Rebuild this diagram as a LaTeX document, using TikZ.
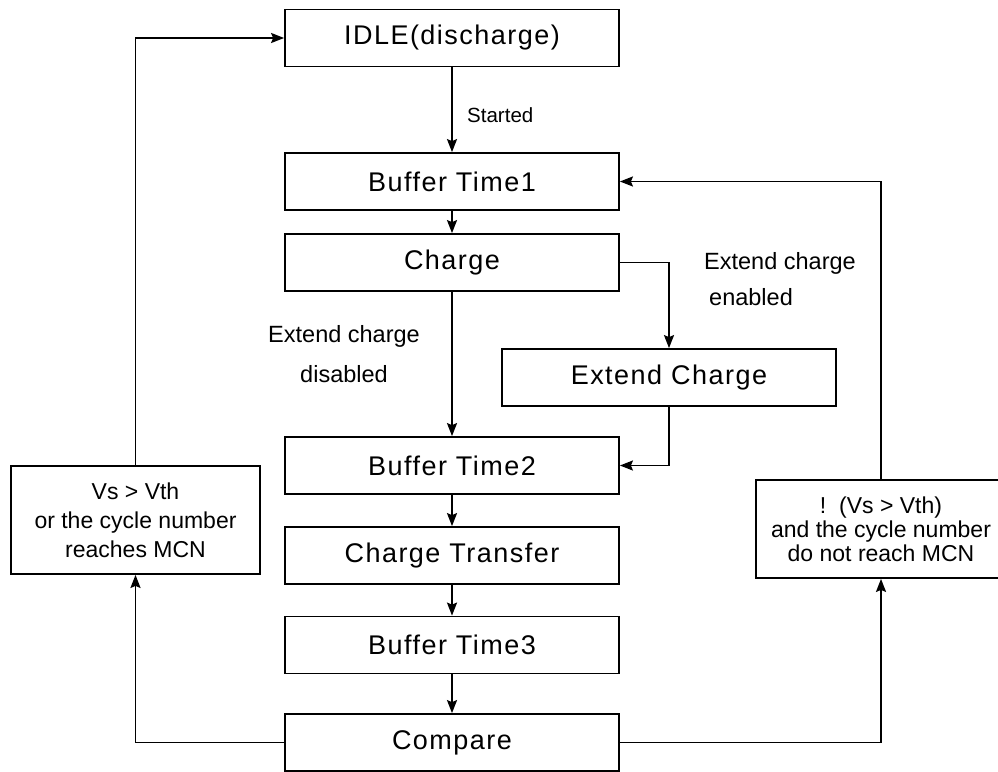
\documentclass[tikz,border=0pt]{standalone}
\usepackage{fontspec}
\setmainfont{Liberation Sans}
\newfontfamily\boxfont[LetterSpace=5.5]{Liberation Sans}
\usetikzlibrary{arrows.meta}
\begin{document}
\begin{tikzpicture}[x=1pt,y=-1pt,
  box/.style={draw,line width=1.8pt,minimum width=334pt,minimum height=57pt,inner sep=0pt,font=\boxfont\fontsize{27}{30}\selectfont},
  sidebox/.style={draw,line width=1.8pt,inner sep=0pt,align=center,font=\fontsize{23}{29}\selectfont},
  lbl/.style={inner sep=0pt,font=\fontsize{23.5}{28}\selectfont},
  arr/.style={line width=1.8pt,-{Stealth[length=13pt,width=10pt,inset=2pt]}},
  ln/.style={line width=1.8pt}]
\useasboundingbox (0,0) rectangle (998,771);
\node[box] (idle) at (452,38) {IDLE(discharge)};
\node[box] (bt1) at (452,181.5) {Buffer Time1};
\node[box] (charge) at (452,262.5) {Charge};
\node[box] (ext) at (669,377.5) {Extend Charge};
\node[box] (bt2) at (452,465.5) {Buffer Time2};
\node[box] (ct) at (452,555.5) {Charge Transfer};
\node[box] (bt3) at (452,645) {Buffer Time3};
\node[box] (cmp) at (452,742.5) {Compare};
\node[sidebox,minimum width=249pt,minimum height=108pt] (lbox) at (135.5,520) {Vs > Vth\\or the cycle number\\reaches MCN};
\node[sidebox,minimum width=250pt,minimum height=98pt] (rbox) at (881,529) {!\ \ (Vs > Vth)\\[-5pt]and the cycle number\\[-5pt]do not reach MCN};
\node[lbl,anchor=west,font=\fontsize{20.5}{24}\selectfont] (started) at (467,115) {Started};
\node[lbl] (dis1) at (344,336) {Extend charge};
\node[lbl] (dis2) at (344,374) {disabled};
\node[lbl,anchor=west] (en1) at (704,263) {Extend charge};
\node[lbl,anchor=west] (en2) at (709,297) {enabled};
\draw[arr] (idle) -- (bt1);
\draw[arr] (bt1) -- (charge);
\draw[arr] (charge.east) -| (ext.north);
\draw[arr] (charge) -- (bt2);
\draw[arr] (ext.south) |- (bt2.east);
\draw[arr] (bt2) -- (ct);
\draw[arr] (ct) -- (bt3);
\draw[arr] (bt3) -- (cmp);
\draw[arr] (cmp.west) -| (lbox.south);
\draw[arr] (lbox.north) |- (idle.west);
\draw[arr] (cmp.east) -| (rbox.south);
\draw[arr] (rbox.north) |- (bt1.east);
\end{tikzpicture}
\end{document}
